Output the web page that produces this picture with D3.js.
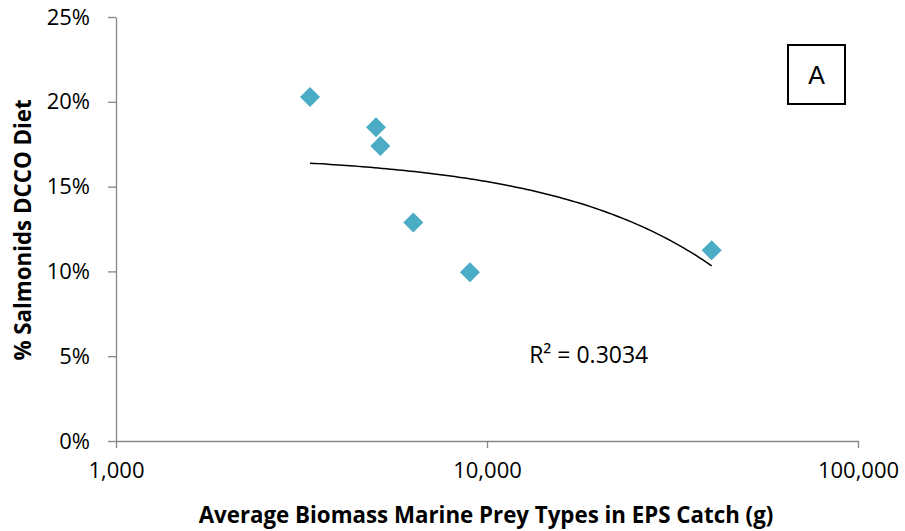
<!DOCTYPE html>
<html>
<head>
<meta charset="utf-8">
<script src="https://cdn.jsdelivr.net/npm/d3@7"></script>
<style>
  body { margin: 0; background: #fff; }
  text { font-family: "Open Sans", sans-serif; fill: #000; }
  .axis path, .axis line { stroke: #868686; stroke-width: 1.3; }
  .axis-title { font-weight: bold; }
</style>
</head>
<body>
<div class="chart-container"></div>
<script>
// biomass of marine prey (g) vs share of salmonids in diet (%)
var biomass = [3334, 5021, 5157, 6329, 8995, 40330];
var salmonidPct = [20.28, 18.50, 17.39, 12.89, 9.95, 11.24];
var xTicks = [1000, 10000, 100000];
var yTicks = [0, 5, 10, 15, 20, 25];
var rSquaredLabel = 'R² = 0.3034';
var panelLabel = 'A';

var margin = {top: 17, right: 47, bottom: 90, left: 116};
var width = 905 - margin.left - margin.right;
var height = 531 - margin.top - margin.bottom;

var points = biomass.map((b, i) => ({x: b, y: salmonidPct[i]}));

var x = d3.scaleLog()
  .domain([1000, 100000])
  .range([margin.left, margin.left + width]);

var y = d3.scaleLinear()
  .domain([0, 25])
  .range([margin.top + height, margin.top]);

var svg = d3.select('.chart-container').append('svg')
  .attr('width', 905)
  .attr('height', 531);

var xAxis = d3.axisBottom(x)
  .tickValues(xTicks)
  .tickFormat(d3.format(','))
  .tickSizeInner(7)
  .tickSizeOuter(0)
  .tickPadding(10);

var yAxis = d3.axisLeft(y)
  .tickValues(yTicks)
  .tickFormat(d => d + '%')
  .tickSizeInner(8)
  .tickSizeOuter(0)
  .tickPadding(18);

svg.append('g')
  .attr('class', 'axis')
  .attr('transform', `translate(0, ${margin.top + height})`)
  .call(xAxis)
  .call(g => g.selectAll('text').style('font-size', '22px').attr('dy', '0.9em'));

svg.append('g')
  .attr('class', 'axis')
  .attr('transform', `translate(${margin.left},0)`)
  .call(yAxis)
  .call(g => g.selectAll('text').style('font-size', '22px'));

/*
 * Linear trendline (least squares on raw x), drawn on the log axis
 */
var mx = d3.mean(biomass);
var my = d3.mean(salmonidPct);
var sxy = d3.sum(points, p => (p.x - mx) * (p.y - my));
var sxx = d3.sum(points, p => (p.x - mx) * (p.x - mx));
var slope = sxy / sxx;
var intercept = my - slope * mx;

var xExtent = d3.extent(biomass);
var trend = d3.range(0, 101).map(i => {
  var lx = Math.log10(xExtent[0]) + i / 100 * (Math.log10(xExtent[1]) - Math.log10(xExtent[0]));
  var xv = Math.pow(10, lx);
  return {x: xv, y: intercept + slope * xv};
});

var line = d3.line()
  .x(d => x(d.x))
  .y(d => y(d.y));

svg.append('path')
  .datum(trend)
  .attr('d', line)
  .attr('fill', 'none')
  .attr('stroke', '#000')
  .attr('stroke-width', 1.5);

svg.selectAll('.point')
  .data(points)
  .enter().append('path')
    .attr('class', 'point')
    .attr('d', d3.symbol().type(d3.symbolSquare).size(200))
    .attr('transform', d => `translate(${x(d.x)},${y(d.y)}) rotate(45)`)
    .attr('fill', '#4BACC6');

svg.append('text')
  .text(rSquaredLabel)
  .attr('x', x(18800))
  .attr('y', y(5))
  .attr('dy', '0.3em')
  .attr('text-anchor', 'middle')
  .style('font-size', '23px');

/*
 * Panel label box
 */
var box = svg.append('g')
  .attr('transform', 'translate(788, 45)');
box.append('rect')
  .attr('width', 57)
  .attr('height', 59)
  .attr('fill', '#fff')
  .attr('stroke', '#000')
  .attr('stroke-width', 2);
box.append('text')
  .text(panelLabel)
  .attr('x', 28.5)
  .attr('y', 30)
  .attr('dy', '0.35em')
  .attr('text-anchor', 'middle')
  .style('font-family', '"Liberation Sans", sans-serif')
  .style('font-size', '25px');

/*
 * Axis titles
 */
svg.append('text')
  .attr('class', 'axis-title')
  .text('Average Biomass Marine Prey Types in EPS Catch (g)')
  .attr('text-anchor', 'middle')
  .attr('x', 486)
  .attr('y', 523)
  .style('font-size', '22.3px');

svg.append('text')
  .attr('class', 'axis-title')
  .text('% Salmonids DCCO Diet')
  .attr('text-anchor', 'middle')
  .attr('transform', 'translate(31, 230) rotate(-90)')
  .style('font-size', '22.3px');
</script>
</body>
</html>
